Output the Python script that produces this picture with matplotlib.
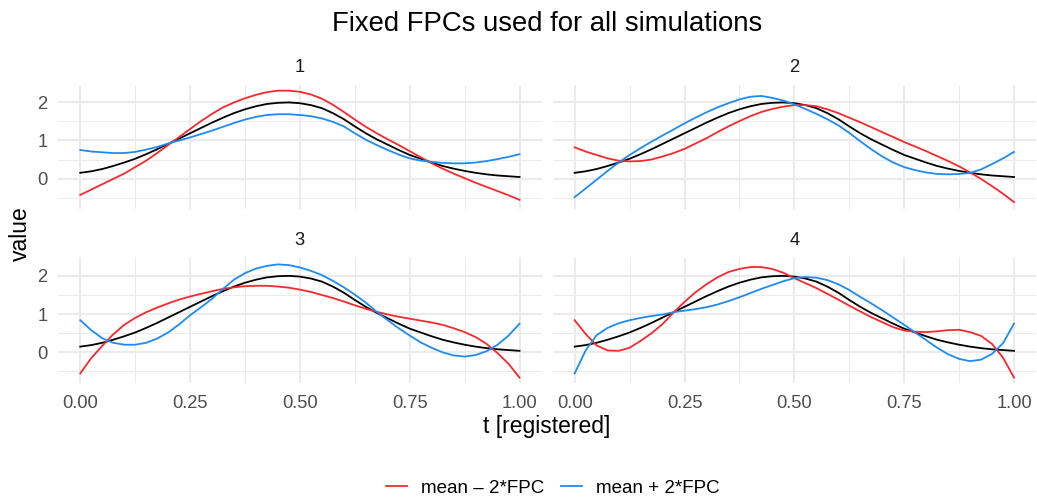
import matplotlib
matplotlib.use("Agg")
import matplotlib.pyplot as plt
from matplotlib.lines import Line2D

plt.rcParams["font.family"] = ["Liberation Sans", "DejaVu Sans"]

# registered time grid
t_grid = [0.000, 0.025, 0.050, 0.075, 0.100, 0.125, 0.150, 0.175, 0.200, 0.225,
          0.250, 0.275, 0.300, 0.325, 0.350, 0.375, 0.400, 0.425, 0.450, 0.475,
          0.500, 0.525, 0.550, 0.575, 0.600, 0.625, 0.650, 0.675, 0.700, 0.725,
          0.750, 0.775, 0.800, 0.825, 0.850, 0.875, 0.900, 0.925, 0.950, 0.975, 1.000]

mean_curve = [0.15, 0.19, 0.25, 0.33, 0.42, 0.52, 0.64, 0.77, 0.91, 1.05,
              1.19, 1.33, 1.47, 1.60, 1.72, 1.82, 1.90, 1.96, 1.99, 2.00,
              1.98, 1.93, 1.85, 1.72, 1.56, 1.37, 1.19, 1.03, 0.89, 0.75,
              0.62, 0.52, 0.42, 0.33, 0.26, 0.20, 0.15, 0.11, 0.08, 0.06, 0.04]

fpc1_minus = [-0.43, -0.29, -0.15, -0.01, 0.13, 0.30, 0.47, 0.67, 0.88, 1.09,
              1.30, 1.51, 1.70, 1.87, 2.00, 2.11, 2.20, 2.27, 2.31, 2.31,
              2.28, 2.21, 2.10, 1.94, 1.75, 1.55, 1.36, 1.19, 1.03, 0.88,
              0.72, 0.56, 0.40, 0.26, 0.13, 0.01, -0.11, -0.22, -0.33, -0.44, -0.56]
fpc1_plus = [0.75, 0.71, 0.69, 0.67, 0.67, 0.70, 0.76, 0.83, 0.92, 1.00,
             1.08, 1.17, 1.26, 1.36, 1.46, 1.55, 1.62, 1.67, 1.69, 1.69,
             1.67, 1.64, 1.58, 1.49, 1.37, 1.19, 1.02, 0.88, 0.75, 0.63,
             0.53, 0.47, 0.44, 0.41, 0.40, 0.40, 0.42, 0.46, 0.51, 0.57, 0.64]

fpc2_minus = [0.82, 0.71, 0.62, 0.53, 0.47, 0.45, 0.46, 0.50, 0.58, 0.67,
              0.78, 0.92, 1.06, 1.22, 1.37, 1.51, 1.64, 1.75, 1.83, 1.89,
              1.93, 1.93, 1.90, 1.82, 1.72, 1.60, 1.48, 1.35, 1.22, 1.09,
              0.96, 0.84, 0.72, 0.59, 0.46, 0.32, 0.16, -0.01, -0.20, -0.40, -0.62]
fpc2_plus = [-0.49, -0.26, -0.03, 0.20, 0.42, 0.62, 0.80, 0.97, 1.13, 1.29,
             1.45, 1.60, 1.74, 1.87, 1.98, 2.08, 2.15, 2.17, 2.12, 2.05,
             1.95, 1.83, 1.70, 1.56, 1.40, 1.20, 0.98, 0.77, 0.58, 0.42,
             0.30, 0.22, 0.16, 0.12, 0.11, 0.12, 0.15, 0.24, 0.38, 0.53, 0.70]

fpc3_minus = [-0.55, -0.15, 0.17, 0.47, 0.72, 0.90, 1.05, 1.17, 1.28, 1.38,
              1.46, 1.53, 1.60, 1.66, 1.70, 1.73, 1.74, 1.74, 1.72, 1.69,
              1.64, 1.58, 1.50, 1.42, 1.33, 1.23, 1.14, 1.06, 0.99, 0.93,
              0.88, 0.83, 0.78, 0.72, 0.63, 0.53, 0.40, 0.22, -0.02, -0.30, -0.66]
fpc3_plus = [0.84, 0.58, 0.37, 0.25, 0.20, 0.20, 0.25, 0.36, 0.52, 0.73,
             0.97, 1.18, 1.40, 1.66, 1.90, 2.07, 2.19, 2.26, 2.30, 2.28,
             2.22, 2.13, 2.02, 1.87, 1.70, 1.51, 1.30, 1.06, 0.84, 0.63,
             0.44, 0.26, 0.12, 0.00, -0.08, -0.11, -0.07, 0.03, 0.20, 0.44, 0.75]

fpc4_minus = [0.84, 0.48, 0.18, 0.05, 0.04, 0.12, 0.30, 0.50, 0.74, 1.04,
              1.32, 1.57, 1.78, 1.96, 2.10, 2.18, 2.23, 2.23, 2.18, 2.08,
              1.94, 1.81, 1.68, 1.53, 1.38, 1.22, 1.07, 0.92, 0.79, 0.66,
              0.57, 0.54, 0.53, 0.55, 0.58, 0.59, 0.53, 0.43, 0.22, -0.14, -0.66]
fpc4_plus = [-0.55, 0.05, 0.45, 0.64, 0.76, 0.84, 0.90, 0.95, 0.99, 1.05,
             1.09, 1.13, 1.18, 1.25, 1.34, 1.44, 1.55, 1.66, 1.76, 1.86,
             1.94, 1.97, 1.95, 1.89, 1.78, 1.63, 1.45, 1.28, 1.10, 0.91,
             0.72, 0.52, 0.32, 0.12, -0.05, -0.17, -0.23, -0.19, -0.04, 0.24, 0.75]

panel_labels = ["1", "2", "3", "4"]
legend_labels = ["mean \u2013 2*FPC", "mean + 2*FPC"]
x_ticks = [0.0, 0.25, 0.5, 0.75, 1.0]
x_tick_labels = ["0.00", "0.25", "0.50", "0.75", "1.00"]
y_ticks = [0, 1, 2]

RED = "#F8282D"
BLUE = "#1E8BF5"
GRID = "#EBEBEB"
W, H = 1037, 501


def px_axes(fig, left, top, right, bottom):
    return fig.add_axes([left / W, 1 - bottom / H, (right - left) / W, (bottom - top) / H])


def draw_panel(ax, minus, plus, label, ylim, show_x, show_y):
    ax.set_xlim(-0.05, 1.05)
    ax.set_ylim(*ylim)
    ax.set_xticks(x_ticks)
    ax.set_xticks([0.125, 0.375, 0.625, 0.875], minor=True)
    ax.set_yticks(y_ticks)
    ax.set_yticks([-0.5, 0.5, 1.5], minor=True)
    ax.grid(which="major", color=GRID, linewidth=1.45)
    ax.grid(which="minor", color=GRID, linewidth=0.75)
    ax.set_axisbelow(True)
    for sp in ax.spines.values():
        sp.set_visible(False)
    ax.tick_params(which="both", length=0, labelsize=13.2, labelcolor="#4D4D4D")
    ax.tick_params(axis="y", pad=7.6)
    ax.tick_params(axis="x", pad=8.5)
    if show_x:
        ax.set_xticklabels(x_tick_labels)
    else:
        ax.set_xticklabels([])
    if not show_y:
        ax.set_yticklabels([])

    ax.plot(t_grid, mean_curve, color="black", linewidth=1.3)
    ax.plot(t_grid, minus, color=RED, linewidth=1.3)
    ax.plot(t_grid, plus, color=BLUE, linewidth=1.3)

    ax.annotate(label, xy=(0.5, 1), xycoords="axes fraction", xytext=(0, 12.6),
                textcoords="offset points", ha="center", va="center",
                fontsize=13.2, color="#1A1A1A")


def main():
    fig = plt.figure(figsize=(W / 100, H / 100), dpi=100)

    all_vals = mean_curve + fpc1_minus + fpc1_plus + fpc2_minus + fpc2_plus \
        + fpc3_minus + fpc3_plus + fpc4_minus + fpc4_plus
    lo, hi = min(all_vals), max(all_vals)
    pad = 0.05 * (hi - lo)
    ylim = (lo - pad, hi + pad)

    panels = [
        (px_axes(fig, 58.3, 85, 541.5, 209.3), fpc1_minus, fpc1_plus, False, True),
        (px_axes(fig, 552.7, 85, 1036, 209.3), fpc2_minus, fpc2_plus, False, False),
        (px_axes(fig, 58.3, 258.3, 541.5, 383.3), fpc3_minus, fpc3_plus, True, True),
        (px_axes(fig, 552.7, 258.3, 1036, 383.3), fpc4_minus, fpc4_plus, True, False),
    ]
    for (ax, minus, plus, show_x, show_y), label in zip(panels, panel_labels):
        draw_panel(ax, minus, plus, label, ylim, show_x, show_y)

    fig.text(547 / W, 1 - 24 / H, "Fixed FPCs used for all simulations",
             ha="center", va="center", fontsize=19.8)
    fig.text(547 / W, 1 - 427 / H, "t [registered]", ha="center", va="center", fontsize=16.5)
    fig.text(20.5 / W, 1 - 234 / H, "value", ha="center", va="center",
             rotation=90, fontsize=16.5)

    handles = [Line2D([], [], color=RED, linewidth=1.3),
               Line2D([], [], color=BLUE, linewidth=1.3)]
    fig.legend(handles, legend_labels, loc="center", bbox_to_anchor=(553 / W, 1 - 488 / H),
               ncol=2, frameon=False, fontsize=13.5, handlelength=1.13,
               handletextpad=0.75, columnspacing=0.87)

    fig.savefig("out.png", dpi=100)


if __name__ == "__main__":
    main()
